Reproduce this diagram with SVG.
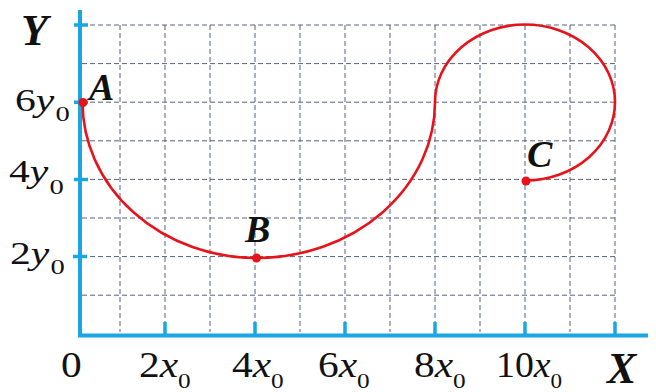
<svg xmlns="http://www.w3.org/2000/svg" width="656" height="392" viewBox="0 0 656 392">
<style>
.grid{stroke:#56627e;stroke-width:1;stroke-dasharray:5 3;fill:none}
.axis{stroke:#1aa6e2;stroke-width:4;fill:none}
.tick{stroke:#1aa6e2;stroke-width:3.5;fill:none}
.curve{stroke:#e8121b;stroke-width:2.6;fill:none}
.dot{fill:#e8121b}
.lab{font-family:"Liberation Serif","Times New Roman",serif;fill:#111}
.ynum{font-size:32px}
.xnum{font-size:36px}
.it{font-style:italic}
.sub{font-size:22px}
.big{font-size:44px;font-style:italic;font-weight:bold}
.pt{font-size:38px;font-style:italic;font-weight:bold}
</style>
<rect width="656" height="392" fill="#fff"/>
<g id="grid">
<path class="grid" d="M82 25H615M82 63.6H615M82 102.2H615M82 140.8H615M82 179.4H615M82 218H615M82 256.6H615M82 295.2H615"/>
<path class="grid" d="M120 25V332M165 25V332M210 25V332M255 25V332M300 25V332M345 25V332M390 25V332M435 25V332M480 25V332M525 25V332M570 25V332M615 25V332"/>
</g>
<g id="axes">
<path class="axis" d="M80 10V335.5H648"/>
<path class="tick" d="M74 25H88M74 102.2H88M74 179.4H88M73 256.6H87"/>
<path class="tick" d="M165 322V334M255 322V334M345 322V334M435 322V334M525 322V334M615 322V334"/>
</g>
<g id="connectors">
<path class="curve" d="M82.5 102 A174 156 0 0 0 256.5 258 A179 156 0 0 0 435 102 A90 77.5 0 0 1 525 24.5 A90 77.5 0 0 1 615 102 A90 78.5 0 0 1 526 180.5"/>
</g>
<g id="node-A"><circle class="dot" cx="83" cy="102.5" r="4.5"/><text class="lab pt" x="89" y="100">A</text></g>
<g id="node-B"><circle class="dot" cx="256.5" cy="258" r="4.5"/><text class="lab pt" x="245" y="242">B</text></g>
<g id="node-C"><circle class="dot" cx="526" cy="181" r="4.5"/><text class="lab pt" x="527" y="167">C</text></g>
<g id="labels">
<text class="lab big" x="21" y="45">Y</text>
<text class="lab big" x="607" y="383" font-size="40">X</text>
<text class="lab ynum" transform="translate(15 111) scale(1.3 1)">6<tspan class="it">y</tspan><tspan class="sub" dx="1" dy="10">0</tspan></text>
<text class="lab ynum" transform="translate(9 182) scale(1.3 1)">4<tspan class="it">y</tspan><tspan class="sub" dx="1" dy="12">0</tspan></text>
<text class="lab ynum" transform="translate(10 264) scale(1.3 1)">2<tspan class="it">y</tspan><tspan class="sub" dx="1" dy="10">0</tspan></text>
<text class="lab xnum" transform="translate(61 377) scale(1.15 1)">0</text>
<text class="lab xnum" transform="translate(139 377) scale(1.15 1)">2<tspan class="it">x</tspan><tspan class="sub" dy="11">0</tspan></text>
<text class="lab xnum" transform="translate(232 377) scale(1.15 1)">4<tspan class="it">x</tspan><tspan class="sub" dy="11">0</tspan></text>
<text class="lab xnum" transform="translate(318 377) scale(1.15 1)">6<tspan class="it">x</tspan><tspan class="sub" dy="11">0</tspan></text>
<text class="lab xnum" transform="translate(414 377) scale(1.15 1)">8<tspan class="it">x</tspan><tspan class="sub" dy="11">0</tspan></text>
<text class="lab xnum" transform="translate(496 377) scale(1.05 1)">10<tspan class="it">x</tspan><tspan class="sub" dy="11">0</tspan></text>
</g>
</svg>
